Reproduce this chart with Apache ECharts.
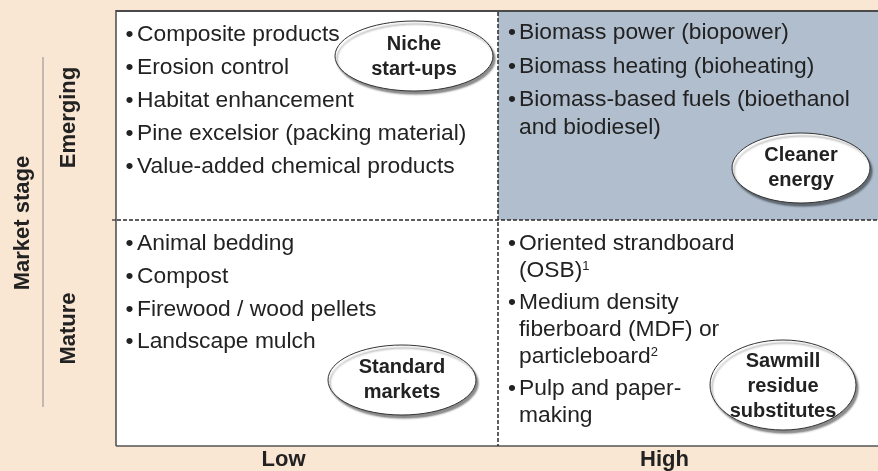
<!DOCTYPE html>
<html><head><meta charset="utf-8">
<script src="https://cdn.jsdelivr.net/npm/echarts@6/dist/echarts.min.js"></script>
<style>html,body{margin:0;padding:0;background:#fae7d3;}#c{width:878px;height:471px;}</style>
</head><body><div id="c"></div>
<script>
// ---- data ----
const xCategories = ['Low', 'High'];
const yCategories = ['Mature', 'Emerging'];
const yAxisTitle = 'Market stage';
const emergingLow = ['Composite products', 'Erosion control', 'Habitat enhancement', 'Pine excelsior (packing material)', 'Value-added chemical products'];
const emergingHigh = [['Biomass power (biopower)'], ['Biomass heating (bioheating)'], ['Biomass-based fuels (bioethanol', 'and biodiesel)']];
const matureLow = ['Animal bedding', 'Compost', 'Firewood / wood pellets', 'Landscape mulch'];
const matureHigh = [['Oriented strandboard', '(OSB){sup|1}'], ['Medium density', 'fiberboard (MDF) or', 'particleboard{sup|2}'], ['Pulp and paper-', 'making']];
const quadrantTags = ['Niche\nstart-ups', 'Cleaner\nenergy', 'Standard\nmarkets', 'Sawmill\nresidue\nsubstitutes'];

// ---- layout / style ----
const FF = '"Liberation Sans", Arial, Helvetica, sans-serif';
const TXT = '#222';
const FS = 22.8;
const G = []; // graphic elements

// matrix background and shaded cell (High / Emerging)
G.push({type: 'rect', z: 0, shape: {x: 116, y: 11, width: 762, height: 435}, style: {fill: '#ffffff'}});
G.push({type: 'rect', z: 1, shape: {x: 498, y: 11, width: 380, height: 209}, style: {fill: '#b0bece'}});
// frame
G.push({type: 'line', z: 2, shape: {x1: 116, y1: 11, x2: 878, y2: 11}, style: {stroke: '#4a4a4a', lineWidth: 2}});
G.push({type: 'line', z: 2, shape: {x1: 116, y1: 10, x2: 116, y2: 446}, style: {stroke: '#4a4a4a', lineWidth: 1.5}});
G.push({type: 'line', z: 2, shape: {x1: 116, y1: 446, x2: 878, y2: 446}, style: {stroke: '#555', lineWidth: 1.5}});
// dashed dividers
G.push({type: 'line', z: 2, shape: {x1: 498, y1: 12, x2: 498, y2: 446}, style: {stroke: '#2a2a2a', lineWidth: 1.5, lineDash: [4, 2]}});
G.push({type: 'line', z: 2, shape: {x1: 117, y1: 220, x2: 878, y2: 220}, style: {stroke: '#2a2a2a', lineWidth: 1.5, lineDash: [4, 2]}});
G.push({type: 'line', z: 2, shape: {x1: 112, y1: 220, x2: 116, y2: 220}, style: {stroke: '#2a2a2a', lineWidth: 1.2}});
// separator between axis title and row labels
G.push({type: 'line', z: 2, shape: {x1: 43, y1: 57, x2: 43, y2: 407}, style: {stroke: '#8a8a8a', lineWidth: 1}});

function addList(items, bx, tx, y0, itemGap, lineGap) {
  let y = y0;
  items.forEach(it => {
    const lines = Array.isArray(it) ? it : [it];
    G.push({type: 'text', z: 4, x: bx, y: y, style: {text: '\u2022', fontSize: FS, fontFamily: FF, fill: TXT, align: 'center', verticalAlign: 'middle'}});
    lines.forEach((ln, i) => {
      G.push({type: 'text', z: 4, x: tx, y: y + i * lineGap, style: {
        text: ln, fontSize: FS, lineHeight: 23, fontFamily: FF, fill: TXT, align: 'left', verticalAlign: 'middle',
        rich: {sup: {fontSize: 13, lineHeight: 23, fontFamily: FF, fill: TXT, verticalAlign: 'top'}}
      }});
    });
    y += (lines.length - 1) * lineGap + itemGap;
  });
}
addList(emergingLow, 129.5, 137, 35, 33, 28);
addList(emergingHigh, 512, 519, 33, 33.5, 28);
addList(matureLow, 129.5, 137, 244, 32.7, 27);
addList(matureHigh, 512, 519, 244, 32, 27);

function addTag(text, cx, cy, rx, ry, ty) {
  G.push({type: 'ellipse', z: 3, shape: {cx: cx, cy: cy, rx: rx, ry: ry}, style: {
    fill: '#fff', stroke: '#333', lineWidth: 1, shadowBlur: 2, shadowOffsetX: 2, shadowOffsetY: 3, shadowColor: 'rgba(0,0,0,0.45)'}});
  G.push({type: 'text', z: 4, x: cx, y: ty, style: {text: text, fontSize: 20, lineHeight: 25, fontWeight: 'bold', fontFamily: FF, fill: TXT, align: 'center', verticalAlign: 'middle'}});
}
addTag(quadrantTags[0], 414, 56, 79, 35, 57);
addTag(quadrantTags[1], 801, 168, 69, 35, 168);
addTag(quadrantTags[2], 402, 380, 74, 35, 380);
addTag(quadrantTags[3], 783, 385, 73, 45, 386);

const chart = echarts.init(document.getElementById('c'));
chart.setOption({
  backgroundColor: '#fae7d3',
  animation: false,
  grid: {left: 116, right: 0, top: 12, bottom: 36, show: false},
  xAxis: {
    type: 'category', data: xCategories, boundaryGap: true,
    axisLine: {show: false}, axisTick: {show: false}, splitLine: {show: false},
    axisLabel: {margin: 15, fontSize: 22, fontWeight: 'bold', fontFamily: FF, color: TXT, padding: [0, 46, 0, 0]}
  },
  yAxis: {
    type: 'category', data: yCategories, boundaryGap: true,
    axisLine: {show: false}, axisTick: {show: false}, splitLine: {show: false},
    axisLabel: {rotate: 90, margin: 36, fontSize: 22, fontWeight: 'bold', fontFamily: FF, color: TXT},
    name: yAxisTitle, nameLocation: 'middle', nameRotate: 90, nameGap: 82,
    nameTextStyle: {fontSize: 22, fontWeight: 'bold', fontFamily: FF, color: TXT}
  },
  series: [],
  graphic: {elements: G}
});
</script></body></html>
